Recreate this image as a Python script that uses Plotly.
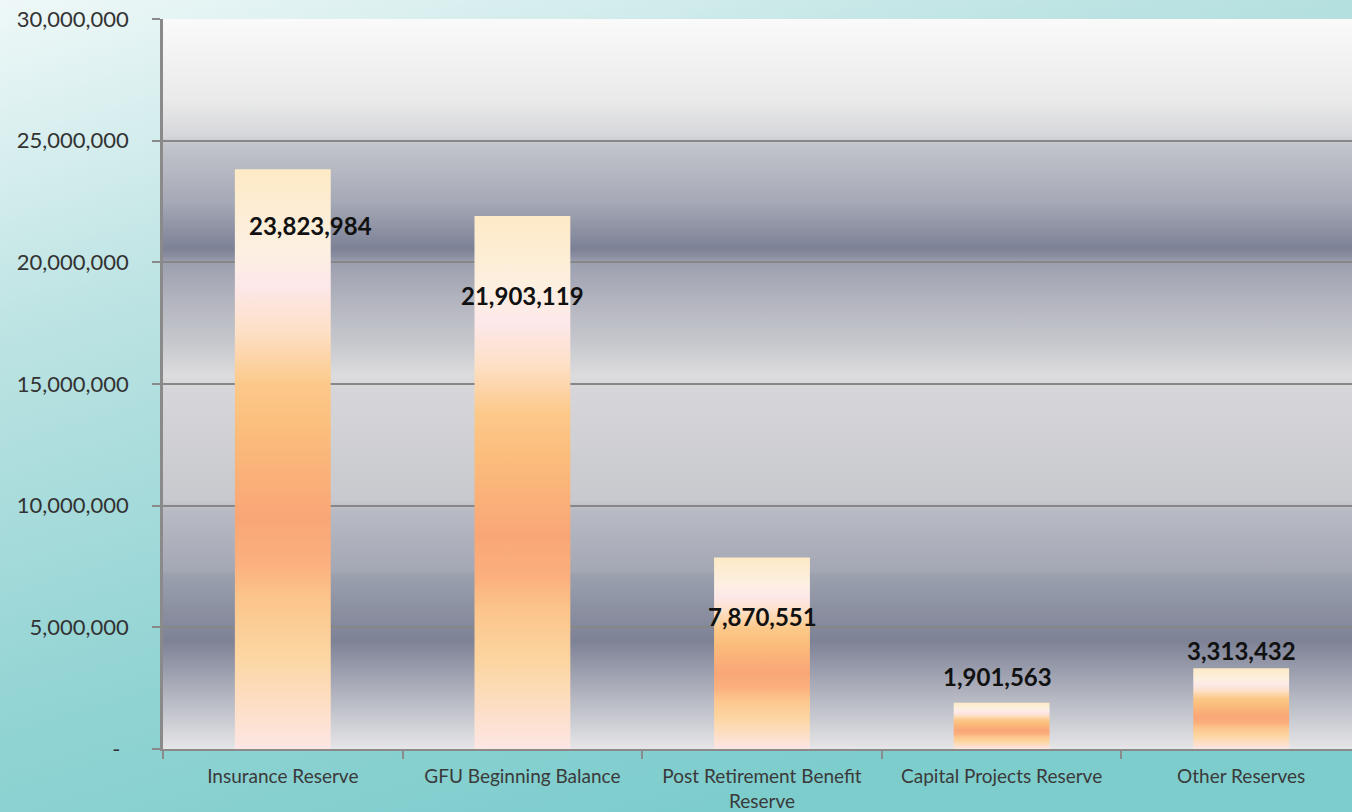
import base64
import plotly.graph_objects as go

# ---------------- data ----------------
categories = [
    "Insurance Reserve",
    "GFU Beginning Balance",
    "Post Retirement Benefit<br>Reserve",
    "Capital Projects Reserve",
    "Other Reserves",
]
values = [23823984, 21903119, 7870551, 1901563, 3313432]

y_tick_values = [0, 5000000, 10000000, 15000000, 20000000, 25000000, 30000000]
y_tick_labels = ["-\u00a0\u2009", "5,000,000", "10,000,000", "15,000,000",
                 "20,000,000", "25,000,000", "30,000,000"]

# label offsets (pixels) as placed in the original chart
label_xshift = [28, 0, 0, -4, 0]
label_yshift = [-56, -79, -59, 26, 18]

# ---------------- style ----------------
W, H = 1352, 812
plot_left, plot_top, plot_bottom = 163, 19, 749
cat_px = 239.6
bar_width = 0.4

bar_colorscale = [
    [0.00, "#fde6e4"],
    [0.06, "#fde0cc"],
    [0.16, "#fcd6a2"],
    [0.26, "#fcc58c"],
    [0.32, "#fbb07e"],
    [0.40, "#f9a676"],
    [0.55, "#fbbd7c"],
    [0.63, "#fcc98a"],
    [0.72, "#fde0c6"],
    [0.80, "#fde8ea"],
    [0.86, "#fdf0e2"],
    [1.00, "#fdeac6"],
]

plot_stops = [
    (0.000, "#fafafa"), (0.110, "#eaeaea"), (0.160, "#d6d7da"), (0.173, "#c2c4cb"),
    (0.250, "#a6a9b6"), (0.315, "#7c8196"), (0.325, "#8a8ea0"), (0.333, "#9c9fae"),
    (0.385, "#b2b4be"), (0.447, "#c8c9ce"), (0.488, "#dcdcde"), (0.508, "#d6d6da"),
    (0.660, "#c8c9ce"), (0.674, "#b8bac4"), (0.756, "#a4a8b4"), (0.762, "#9aa0ae"),
    (0.852, "#7e8296"), (0.934, "#b8bac4"), (1.000, "#e6e6e8"),
]
paper_stops = [(0.0, "#eff8f8"), (0.33, "#bde3e3"), (0.7, "#93d4d4"), (1.0, "#7ecdcd")]


def svg_uri(stops, x2, y2):
    st = "".join(f'<stop offset="{o}" stop-color="{c}"/>' for o, c in stops)
    svg = ('<svg xmlns="http://www.w3.org/2000/svg" width="100" height="100" '
           'viewBox="0 0 100 100" preserveAspectRatio="none"><defs>'
           f'<linearGradient id="g" x1="0" y1="0" x2="{x2}" y2="{y2}">{st}</linearGradient>'
           '</defs><rect width="100" height="100" fill="url(#g)"/></svg>')
    return "data:image/svg+xml;base64," + base64.b64encode(svg.encode()).decode()


x_dom0 = plot_left / W
y_dom0 = (H - plot_bottom) / H
y_dom1 = (H - plot_top) / H
x_range_end = -0.5 + (W - plot_left) / cat_px

fig = go.Figure()

positions = list(range(len(categories)))
for i, v in zip(positions, values):
    xl, xr = i - bar_width / 2, i + bar_width / 2
    fig.add_trace(go.Scatter(
        x=[xl, xr, xr, xl, xl],
        y=[0, 0, v, v, 0],
        mode="lines",
        line=dict(width=0),
        fill="toself",
        fillgradient=dict(type="vertical", colorscale=bar_colorscale, start=0, stop=v),
        hoveron="fills",
        name=categories[i].replace("<br>", " "),
        showlegend=False,
    ))

for i, v, dx, dy in zip(positions, values, label_xshift, label_yshift):
    fig.add_annotation(
        x=i, y=v, xref="x", yref="y", text=f"<b>{v:,}</b>", showarrow=False,
        xshift=dx, yshift=dy,
        font=dict(family="Lato, 'Open Sans', sans-serif", size=24, color="#111111"),
    )

fig.update_layout(
    width=W, height=H,
    margin=dict(l=0, r=0, t=0, b=0),
    paper_bgcolor="#9fd9d9",
    plot_bgcolor="rgba(0,0,0,0)",
    template="none",
    showlegend=False,
    images=[
        dict(source=svg_uri(paper_stops, 0.5, 1), xref="paper", yref="paper",
             x=0, y=1, sizex=1, sizey=1, xanchor="left", yanchor="top",
             sizing="stretch", layer="below"),
        dict(source=svg_uri(plot_stops, 0, 1), xref="paper", yref="paper",
             x=x_dom0, y=y_dom1, sizex=1 - x_dom0, sizey=y_dom1 - y_dom0,
             xanchor="left", yanchor="top", sizing="stretch", layer="below"),
    ],
    xaxis=dict(
        domain=[x_dom0, 1], range=[-0.5, x_range_end],
        tickmode="array", tickvals=positions, ticktext=categories,
        ticks="", showgrid=False, zeroline=False, automargin=False,
        showline=True, linecolor="#8a8a8a", linewidth=2,
        minor=dict(ticks="outside", ticklen=8, tickwidth=2, tickcolor="#8a8a8a",
                   tick0=-0.5, dtick=1, showgrid=False),
        tickfont=dict(family="Lato, 'Open Sans', sans-serif", size=19, color="#3a3a3a"),
        ticklabelstandoff=9,
        fixedrange=True,
    ),
    yaxis=dict(
        domain=[y_dom0, y_dom1], range=[0, 30000000],
        tickmode="array", tickvals=y_tick_values, ticktext=y_tick_labels,
        ticks="outside", ticklen=8, tickwidth=2, tickcolor="#8a8a8a",
        showgrid=True, gridcolor="#878787", gridwidth=2,
        zeroline=False, automargin=False,
        showline=True, linecolor="#8a8a8a", linewidth=2.5,
        tickfont=dict(family="Lato, 'Open Sans', sans-serif", size=22, color="#333333"),
        ticklabelstandoff=19,
        fixedrange=True,
    ),
)

fig.write_html(
    "out.html", include_plotlyjs=True, full_html=True,
    config={"displayModeBar": False},
    post_script="document.body.style.margin='0';document.body.style.overflow='hidden';",
)
